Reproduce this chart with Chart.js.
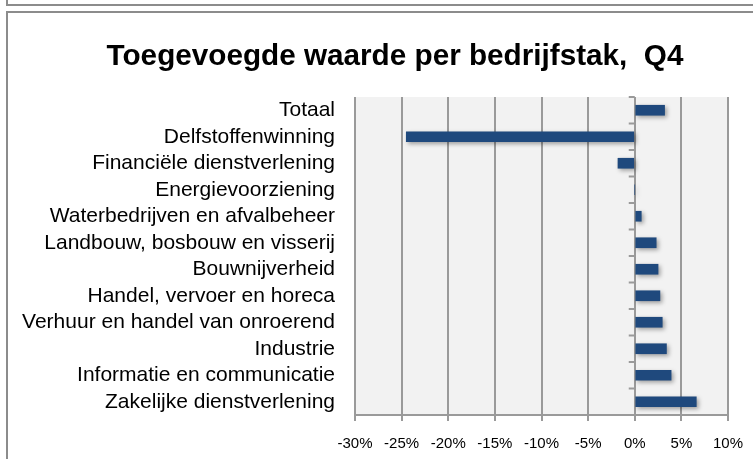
<!DOCTYPE html>
<html>
<head>
<meta charset="utf-8">
<script src="https://cdn.jsdelivr.net/npm/chart.js@4"></script>
<style>
  html, body { margin: 0; padding: 0; width: 753px; height: 459px; overflow: hidden; background: #fff; }
  .boxTop { position: absolute; left: 6px; top: -20px; width: 900px; height: 24px; border-left: 2px solid #8c8c8c; border-bottom: 2px solid #8c8c8c; }
  .frame { position: absolute; left: 6px; top: 11px; width: 900px; height: 600px; border-left: 2px solid #8c8c8c; border-top: 2px solid #8c8c8c; }
  canvas { position: absolute; left: 0; top: 0; }
</style>
</head>
<body>
<div class="boxTop"></div>
<div class="frame"></div>
<canvas id="c" width="753" height="459"></canvas>
<script>
const chartTitle = "Toegevoegde waarde per bedrijfstak,  Q4";
const categories = [
  "Totaal",
  "Delfstoffenwinning",
  "Financiële dienstverlening",
  "Energievoorziening",
  "Waterbedrijven en afvalbeheer",
  "Landbouw, bosbouw en visserij",
  "Bouwnijverheid",
  "Handel, vervoer en horeca",
  "Verhuur en handel van onroerend",
  "Industrie",
  "Informatie en communicatie",
  "Zakelijke dienstverlening"
];
const values = [3.2, -24.5, -1.8, 0, 0.7, 2.3, 2.5, 2.7, 2.95, 3.4, 3.9, 6.6];
const xTickValues = [-30, -25, -20, -15, -10, -5, 0, 5, 10];
const xTickSuffix = "%";

const gridGray = "#9a9a9a";
const FONT = "'Liberation Sans', Arial, sans-serif";

const bgPlugin = {
  id: "plotBg",
  beforeDraw(chart) {
    const { ctx, chartArea: a } = chart;
    ctx.save();
    ctx.fillStyle = "#f2f2f2";
    ctx.fillRect(a.left, a.top, a.right - a.left, a.bottom - a.top);
    ctx.restore();
  }
};

const titlePlugin = {
  id: "customTitle",
  afterDraw(chart) {
    const ctx = chart.ctx;
    ctx.save();
    ctx.font = "bold 29.7px " + FONT;
    ctx.fillStyle = "#000";
    ctx.textAlign = "center";
    ctx.textBaseline = "middle";
    ctx.fillText(chartTitle, 395, 57);
    ctx.restore();
  }
};

const shadowPlugin = {
  id: "barShadow",
  beforeDatasetsDraw(chart) {
    const ctx = chart.ctx;
    ctx.save();
    ctx.shadowColor = "rgba(0,0,0,0.35)";
    ctx.shadowBlur = 4;
    ctx.shadowOffsetX = 2;
    ctx.shadowOffsetY = 2;
  },
  afterDatasetsDraw(chart) {
    chart.ctx.restore();
  }
};

const zeroTicksPlugin = {
  id: "zeroTicks",
  afterDatasetsDraw(chart) {
    const { ctx, chartArea: a, scales } = chart;
    const x0 = scales.x.getPixelForValue(0);
    const y = scales.y;
    const n = categories.length;
    ctx.save();
    ctx.strokeStyle = gridGray;
    ctx.lineWidth = 2;
    ctx.beginPath();
    const marks = [a.top];
    for (let i = 0; i < n - 1; i++) {
      marks.push((y.getPixelForValue(i) + y.getPixelForValue(i + 1)) / 2);
    }
    for (const m of marks) {
      ctx.moveTo(x0 - 6, m);
      ctx.lineTo(x0, m);
    }
    ctx.stroke();
    ctx.restore();
  }
};

new Chart(document.getElementById("c"), {
  type: "bar",
  data: {
    labels: categories,
    datasets: [{
      data: values,
      backgroundColor: "#1f497d",
      borderWidth: 0,
      barThickness: 10
    }]
  },
  options: {
    indexAxis: "y",
    responsive: false,
    animation: false,
    layout: { padding: { top: 97, left: 0, right: 25, bottom: 0 } },
    plugins: {
      legend: { display: false },
      tooltip: { enabled: false },
      title: { display: false }
    },
    scales: {
      x: {
        min: -30,
        max: 10,
        afterBuildTicks(scale) {
          scale.ticks = xTickValues.map(v => ({ value: v }));
        },
        afterFit(scale) {
          scale.height = 44;
          scale.paddingLeft = 0;
          scale.paddingRight = 0;
        },
        grid: { color: gridGray, lineWidth: 2, tickLength: 6, tickColor: gridGray, drawTicks: true },
        border: { display: true, color: gridGray, width: 2 },
        ticks: {
          padding: 14,
          color: "#000",
          maxRotation: 0,
          font: { family: FONT, size: 15 },
          callback: v => v + xTickSuffix
        }
      },
      y: {
        afterFit(scale) {
          scale.width = 355;
          scale.paddingTop = 0;
          scale.paddingBottom = 0;
        },
        grid: { display: false },
        border: { display: false },
        ticks: {
          padding: 12,
          color: "#000",
          autoSkip: false,
          font: { family: FONT, size: 21 }
        }
      }
    }
  },
  plugins: [bgPlugin, shadowPlugin, zeroTicksPlugin, titlePlugin]
});
</script>
</body>
</html>
